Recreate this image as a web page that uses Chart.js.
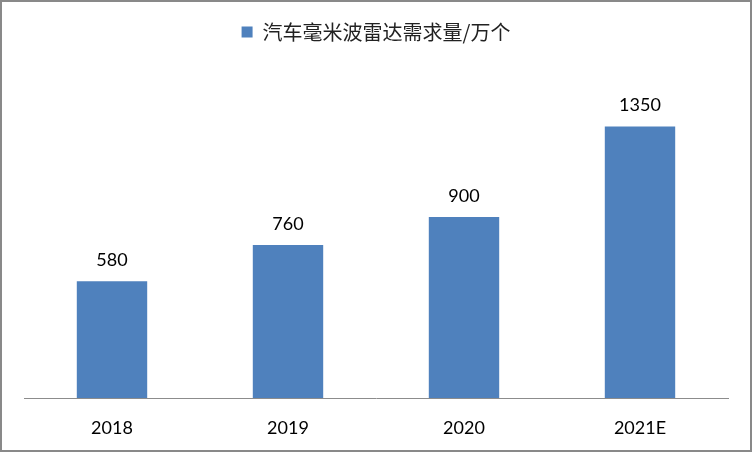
<!DOCTYPE html>
<html>
<head>
<meta charset="utf-8">
<script src="https://cdn.jsdelivr.net/npm/chart.js@4"></script>
<style>
    body { margin: 0; background: #fff; }
    #wrap { width: 752px; height: 452px; box-sizing: border-box; border: 2px solid #898989; }
</style>
</head>
<body>
<div id="wrap"><canvas id="chart" width="748" height="448"></canvas></div>
<script>
var years = ["2018", "2019", "2020", "2021E"];
var demand = [580, 760, 900, 1350];
var seriesName = "汽车毫米波雷达需求量/万个";

// value labels above each bar
var barLabels = {
    id: "barLabels",
    afterDatasetsDraw: function (chart) {
        var ctx = chart.ctx;
        var meta = chart.getDatasetMeta(0);
        ctx.save();
        ctx.font = "18px Lato";
        ctx.fillStyle = "#000";
        ctx.textAlign = "center";
        ctx.textBaseline = "middle";
        meta.data.forEach(function (bar, i) {
            ctx.fillText(demand[i], bar.x, bar.y - 21);
        });
        ctx.restore();
    }
};

new Chart(document.getElementById("chart").getContext("2d"), {
    type: "bar",
    data: {
        labels: years,
        datasets: [{
            label: seriesName,
            data: demand,
            backgroundColor: "#4f81bd",
            categoryPercentage: 1,
            barPercentage: 0.4
        }]
    },
    options: {
        responsive: false,
        animation: false,
        layout: {
            padding: {left: 22, right: 22, top: 10, bottom: 0}
        },
        plugins: {
            legend: {
                labels: {
                    boxWidth: 11,
                    boxHeight: 11,
                    color: "#222",
                    font: {size: 20, family: "'Noto Sans CJK SC'"}
                }
            },
            tooltip: {enabled: false}
        },
        scales: {
            x: {
                grid: {display: false},
                border: {color: "#8c8c8c"},
                ticks: {color: "#000", padding: 11, font: {size: 18, family: "Lato"}},
                afterFit: function (scale) {
                    scale.height = 52;
                }
            },
            y: {
                display: false,
                min: 0,
                max: 1720
            }
        }
    },
    plugins: [barLabels]
});
</script>
</body>
</html>
